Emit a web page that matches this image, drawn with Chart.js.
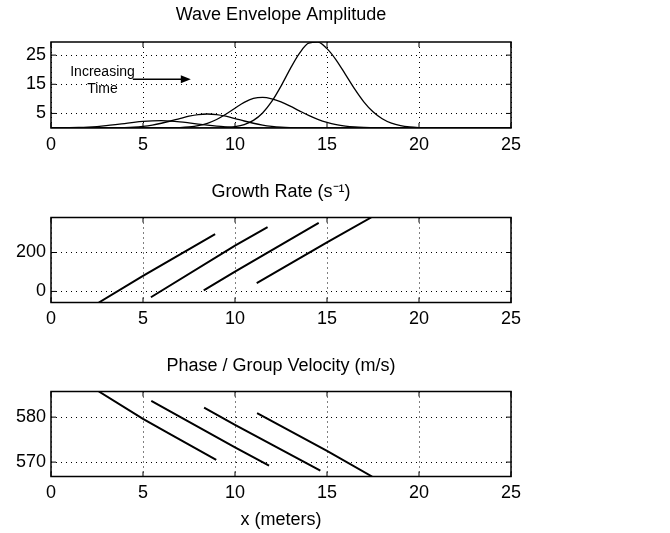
<!DOCTYPE html>
<html>
<head>
<meta charset="utf-8">
<script src="https://cdn.jsdelivr.net/npm/chart.js@4.4.1/dist/chart.umd.min.js"></script>
<style>
  html, body { margin: 0; padding: 0; background: #fff; }
  body { width: 670px; height: 533px; position: relative; overflow: hidden; }
  .panel { position: absolute; left: 0; }
</style>
</head>
<body>
<div class="panel" style="top:0px"><canvas id="amp" width="670" height="160"></canvas></div>
<div class="panel" style="top:170px"><canvas id="rate" width="670" height="165"></canvas></div>
<div class="panel" style="top:344px"><canvas id="vel" width="670" height="189"></canvas></div>
<script>
// shared x positions (meters)
const xGrid = [
    0, 0.5, 1, 1.5, 2, 2.5, 3, 3.5, 4, 4.5,
    5, 5.5, 6, 6.5, 7, 7.5, 8, 8.5, 9, 9.5,
    10, 10.5, 11, 11.5, 12, 12.5, 13, 13.5, 14, 14.5,
    15, 15.5, 16, 16.5, 17, 17.5, 18, 18.5, 19, 19.5,
    20, 20.5, 21, 21.5, 22, 22.5, 23, 23.5, 24, 24.5, 25
];

// wave envelope amplitude, four snapshots in time
const amp1 = [
    0, 0.04, 0.09, 0.17, 0.30, 0.50, 0.78, 1.13, 1.52, 1.91,
    2.24, 2.45, 2.50, 2.38, 2.11, 1.75, 1.36, 0.98, 0.66, 0.42,
    0.24, 0.13, 0.07, 0.03, 0, 0, 0, 0, 0, 0,
    0, 0, 0, 0, 0, 0, 0, 0, 0, 0,
    0, 0, 0, 0, 0, 0, 0, 0, 0, 0, 0
];
const amp2 = [
    0, 0, 0, 0, 0, 0, 0, 0.06, 0.14, 0.30,
    0.58, 1.01, 1.63, 2.40, 3.25, 4.04, 4.60, 4.80, 4.60, 4.04,
    3.25, 2.40, 1.63, 1.01, 0.58, 0.30, 0.14, 0.06, 0, 0,
    0, 0, 0, 0, 0, 0, 0, 0, 0, 0,
    0, 0, 0, 0, 0, 0, 0, 0, 0, 0, 0
];
const amp3 = [
    0, 0, 0, 0, 0, 0, 0, 0, 0, 0,
    0, 0, 0, 0.05, 0.14, 0.36, 0.80, 1.62, 2.92, 4.71,
    6.79, 8.77, 10.13, 10.49, 10.01, 8.96, 7.50, 5.88, 4.32, 2.97,
    1.91, 1.15, 0.65, 0.34, 0.17, 0.08, 0, 0, 0, 0,
    0, 0, 0, 0, 0, 0, 0, 0, 0, 0, 0
];
const amp4 = [
    0, 0, 0, 0, 0, 0, 0, 0, 0, 0,
    0, 0, 0, 0, 0, 0, 0, 0, 0, 0.18,
    0.49, 1.19, 2.62, 5.17, 9.10, 14.36, 20.27, 25.58, 29.10, 29.45,
    27.23, 23.32, 18.40, 13.39, 8.97, 5.54, 3.16, 1.66, 0.80, 0.36,
    0.15, 0.05, 0, 0, 0, 0, 0, 0, 0, 0, 0
];

// growth rate (1/s)
const rateX1 = [2.6, 5.0, 8.92];
const rateY1 = [-57, 80, 294];
const rateX2 = [5.43, 10.0, 11.77];
const rateY2 = [-30, 235, 330];
const rateX3 = [8.3, 10.0, 14.55];
const rateY3 = [5, 102, 352];
const rateX4 = [11.18, 15.0, 17.4];
const rateY4 = [43, 252, 380];

// phase / group velocity (m/s)
const velX1 = [2.6, 5.0, 6.4, 8.98];
const velY1 = [585.7, 579.6, 576.4, 570.5];
const velX2 = [5.45, 10.0, 11.85];
const velY2 = [583.6, 573.3, 569.2];
const velX3 = [8.32, 10.0, 14.64];
const velY3 = [582.1, 578.3, 568.1];
const velX4 = [11.2, 15.0, 17.45];
const velY4 = [580.9, 572.5, 566.8];

// tick labels
const xTicks = [0, 5, 10, 15, 20, 25];
const ampTicks = [5, 15, 25];
const rateTicks = [0, 200];
const velTicks = [570, 580];

// annotation in the top panel
const noteText = ["Increasing", "Time"];
const noteX = [2.8, 2.8];
const noteY = [19.3, 13.3];
const arrowX = [4.45, 7.6];
const arrowY = 16.7;

const FONT = "'Liberation Sans', Arial, sans-serif";

function pts(xs, ys) {
    return xs.map((x, i) => ({ x: x, y: ys[i] }));
}

function line(xs, ys, width, smooth) {
    return {
        data: pts(xs, ys),
        borderColor: "#000",
        borderWidth: width,
        pointRadius: 0,
        showLine: true,
        fill: false,
        tension: 0,
        cubicInterpolationMode: smooth ? "monotone" : "default"
    };
}

// box around the axes plus inward tick marks (matlab style)
const framePlugin = {
    id: "frame",
    afterDraw(chart) {
        const ctx = chart.ctx;
        const a = chart.chartArea;
        const xs = chart.scales.x;
        const ys = chart.scales.y;
        ctx.save();
        ctx.strokeStyle = "#000";
        ctx.lineWidth = 1.5;
        ctx.strokeRect(a.left, a.top, a.right - a.left, a.bottom - a.top);
        ctx.lineWidth = 1;
        ctx.beginPath();
        xs.ticks.forEach((t) => {
            const px = xs.getPixelForValue(t.value);
            ctx.moveTo(px, a.bottom);
            ctx.lineTo(px, a.bottom - 5);
            ctx.moveTo(px, a.top);
            ctx.lineTo(px, a.top + 5);
        });
        ys.ticks.forEach((t) => {
            const py = ys.getPixelForValue(t.value);
            ctx.moveTo(a.left, py);
            ctx.lineTo(a.left + 5, py);
            ctx.moveTo(a.right, py);
            ctx.lineTo(a.right - 5, py);
        });
        ctx.stroke();
        ctx.restore();
    }
};

const notePlugin = {
    id: "note",
    afterDatasetsDraw(chart) {
        if (chart.canvas.id !== "amp") return;
        const ctx = chart.ctx;
        const xs = chart.scales.x;
        const ys = chart.scales.y;
        ctx.save();
        ctx.fillStyle = "#000";
        ctx.strokeStyle = "#000";
        ctx.font = "14px " + FONT;
        ctx.textAlign = "center";
        ctx.textBaseline = "middle";
        noteText.forEach((t, i) => {
            ctx.fillText(t, xs.getPixelForValue(noteX[i]), ys.getPixelForValue(noteY[i]));
        });
        const x0 = xs.getPixelForValue(arrowX[0]);
        const x1 = xs.getPixelForValue(arrowX[1]);
        const y = ys.getPixelForValue(arrowY);
        ctx.lineWidth = 1.5;
        ctx.beginPath();
        ctx.moveTo(x0, y);
        ctx.lineTo(x1 - 4, y);
        ctx.stroke();
        ctx.beginPath();
        ctx.moveTo(x1, y);
        ctx.lineTo(x1 - 10, y - 4);
        ctx.lineTo(x1 - 10, y + 4);
        ctx.closePath();
        ctx.fill();
        ctx.restore();
    }
};

function makeOptions(title, titlePad, yMin, yMax, yTicks, xTitle, xHeight) {
    return {
        responsive: false,
        animation: false,
        layout: { padding: { left: 0, right: 159, top: 0, bottom: 0 } },
        plugins: {
            legend: { display: false },
            tooltip: { enabled: false },
            title: {
                display: true,
                text: title,
                color: "#000",
                fullSize: false,
                font: { family: FONT, size: 18, weight: "normal" },
                padding: titlePad
            }
        },
        scales: {
            x: {
                type: "linear",
                min: 0,
                max: 25,
                afterBuildTicks: (axis) => {
                    axis.ticks = xTicks.map((v) => ({ value: v }));
                },
                afterFit: (axis) => {
                    axis.height = xHeight;
                },
                ticks: {
                    color: "#000",
                    font: { family: FONT, size: 18 },
                    padding: 6,
                    maxRotation: 0
                },
                grid: { color: "#000", lineWidth: 1, drawTicks: false },
                border: { display: false, dash: [1, 4] },
                title: {
                    display: !!xTitle,
                    text: xTitle,
                    color: "#000",
                    font: { family: FONT, size: 18 },
                    padding: { top: 0, bottom: 2 }
                }
            },
            y: {
                type: "linear",
                min: yMin,
                max: yMax,
                afterBuildTicks: (axis) => {
                    axis.ticks = yTicks.map((v) => ({ value: v }));
                },
                afterFit: (axis) => {
                    axis.width = 51;
                },
                ticks: {
                    color: "#000",
                    font: { family: FONT, size: 18 },
                    padding: 5
                },
                grid: { color: "#000", lineWidth: 1, drawTicks: false },
                border: { display: false, dash: [1, 4] }
            }
        }
    };
}

document.addEventListener("DOMContentLoaded", function () {
    new Chart(document.getElementById("amp"), {
        type: "scatter",
        data: {
            datasets: [
                line(xGrid, amp1, 1.3, true),
                line(xGrid, amp2, 1.3, true),
                line(xGrid, amp3, 1.3, true),
                line(xGrid, amp4, 1.3, true)
            ]
        },
        options: makeOptions("Wave Envelope Amplitude", { top: 4, bottom: 16.4 }, 0, 29.5, ampTicks, "", 32),
        plugins: [framePlugin, notePlugin]
    });

    new Chart(document.getElementById("rate"), {
        type: "scatter",
        data: {
            datasets: [
                line(rateX1, rateY1, 2, false),
                line(rateX2, rateY2, 2, false),
                line(rateX3, rateY3, 2, false),
                line(rateX4, rateY4, 2, false)
            ]
        },
        options: makeOptions("Growth Rate (s\u207B\u00B9)", { top: 11.2, bottom: 14.7 }, -57, 380, rateTicks, "", 32.5),
        plugins: [framePlugin]
    });

    new Chart(document.getElementById("vel"), {
        type: "scatter",
        data: {
            datasets: [
                line(velX1, velY1, 2, false),
                line(velX2, velY2, 2, false),
                line(velX3, velY3, 2, false),
                line(velX4, velY4, 2, false)
            ]
        },
        options: makeOptions("Phase / Group Velocity (m/s)", { top: 11.7, bottom: 14.2 }, 566.8, 585.7, velTicks, "x (meters)", 56.5),
        plugins: [framePlugin]
    });
});
</script>
</body>
</html>
